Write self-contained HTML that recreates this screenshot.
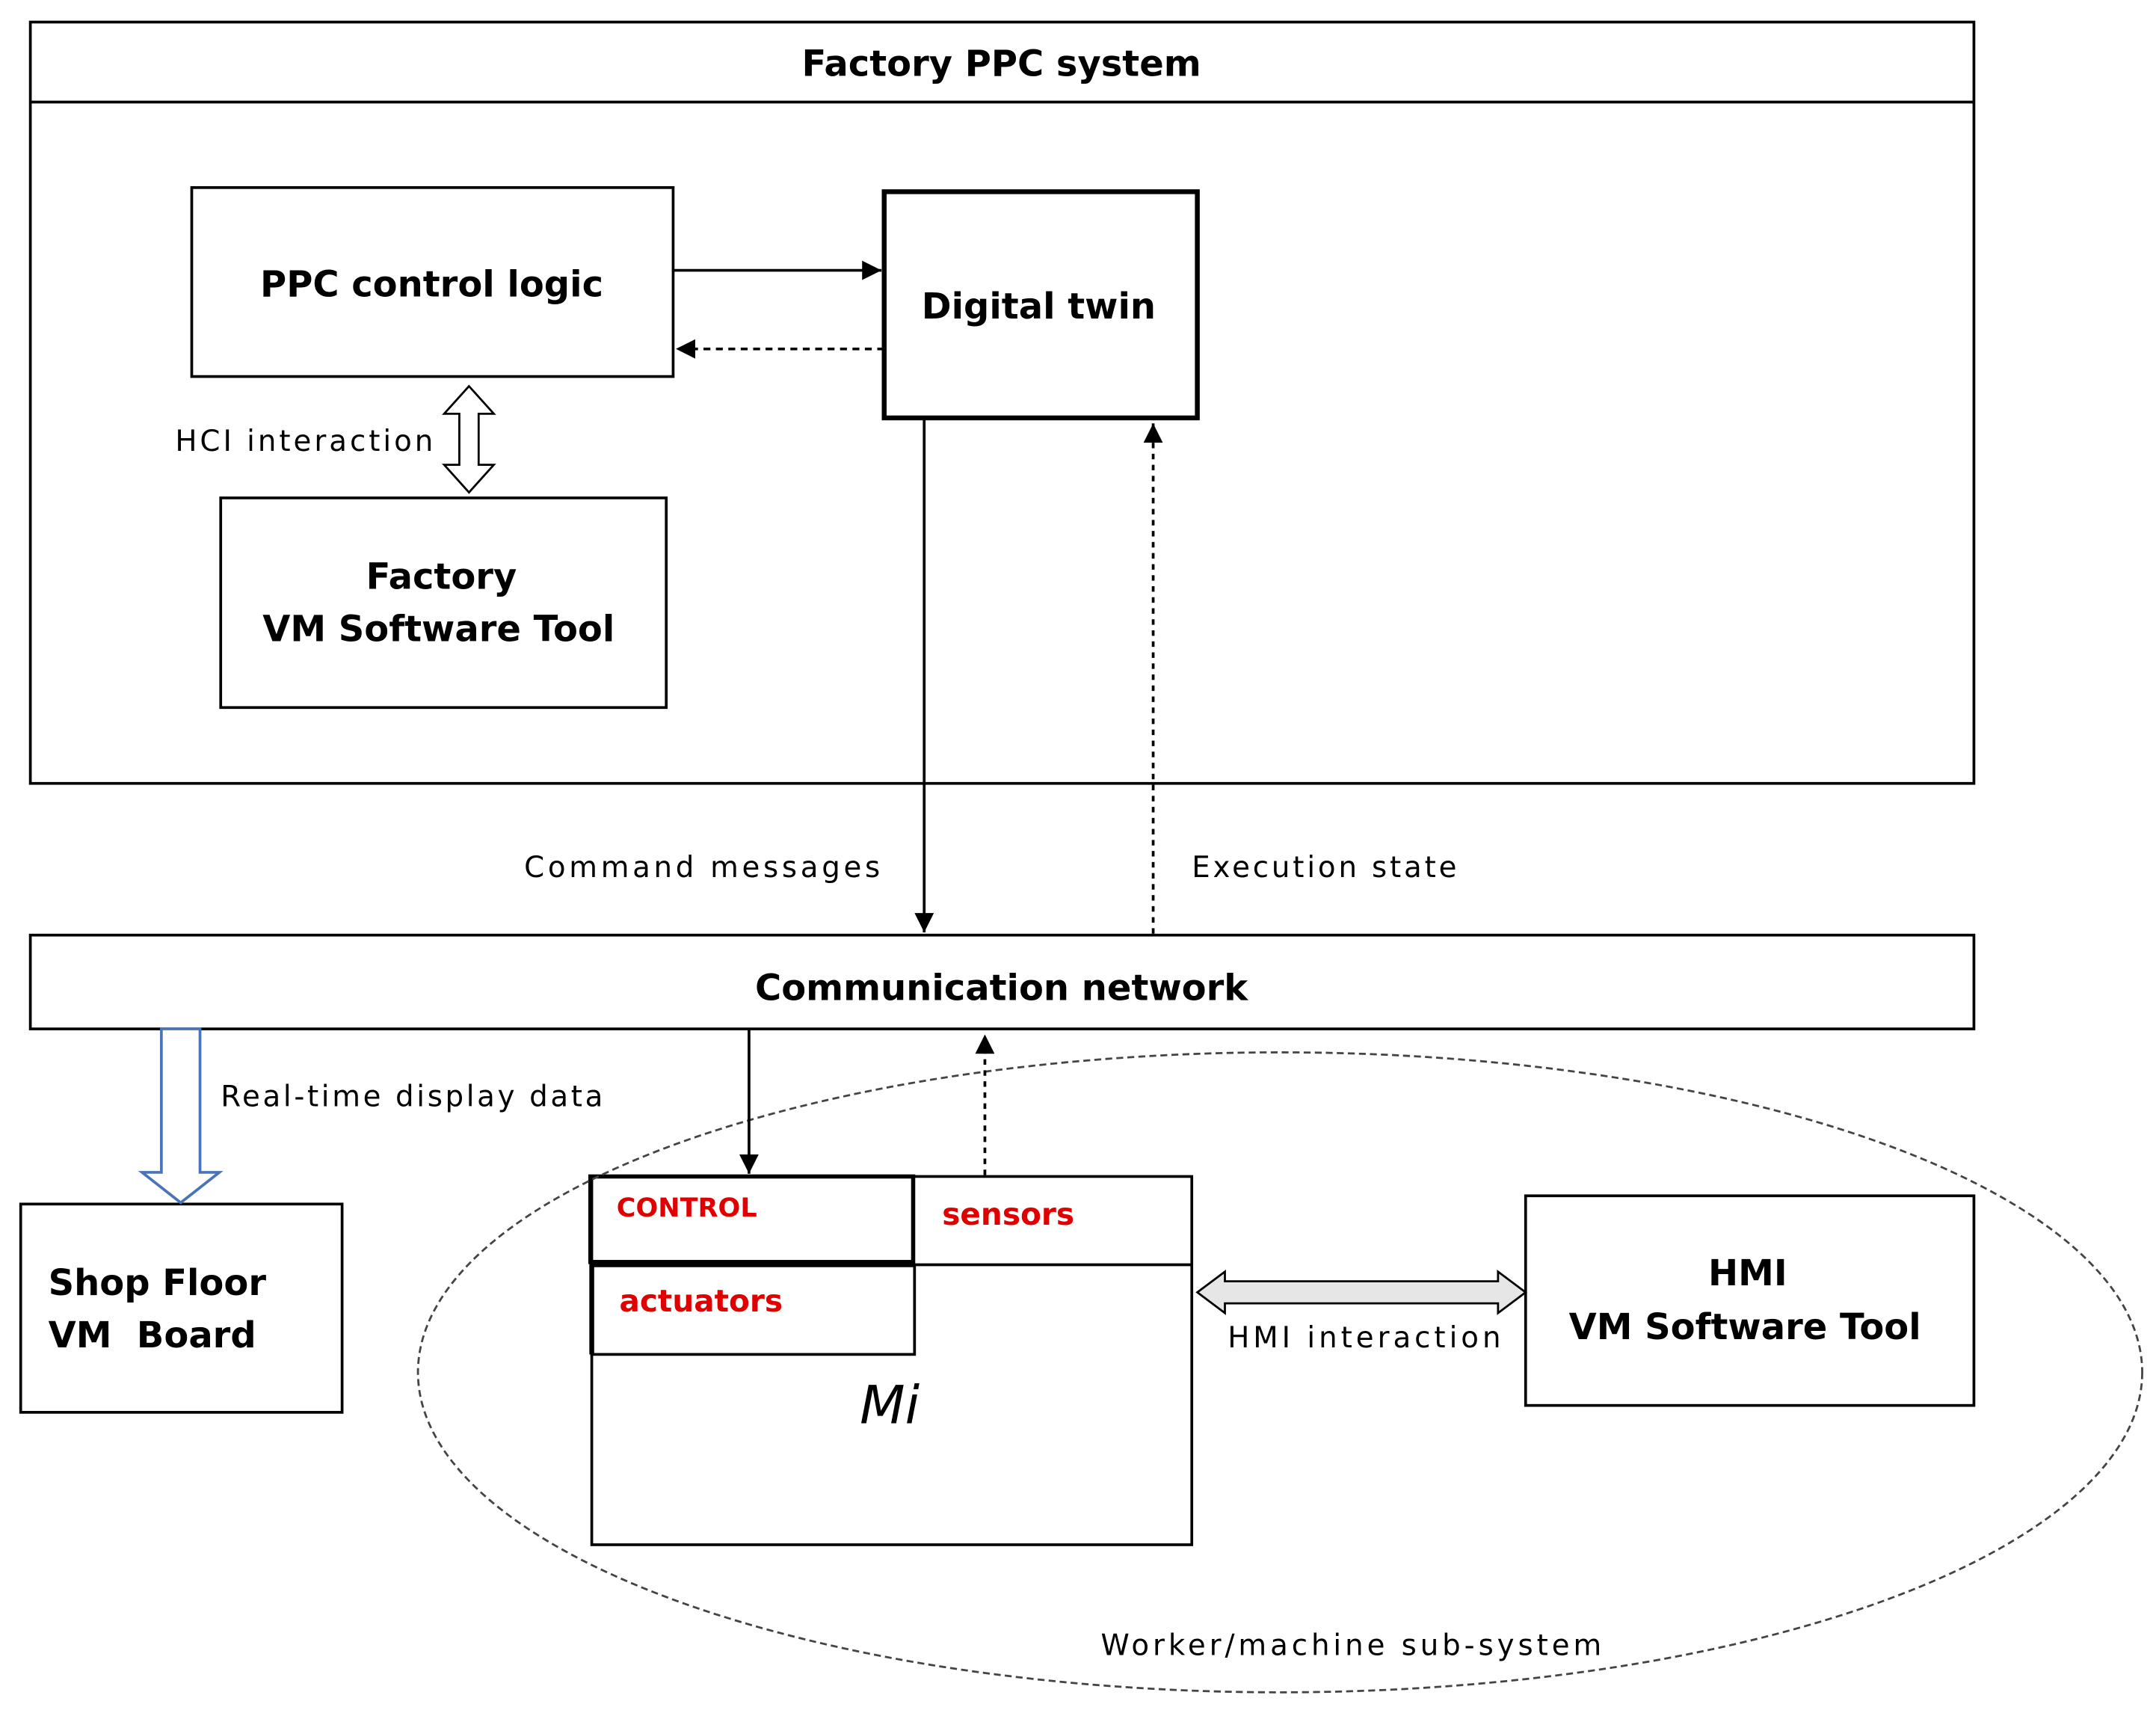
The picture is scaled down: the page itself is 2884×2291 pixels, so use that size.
<!DOCTYPE html>
<html><head><meta charset="utf-8"><style>html,body{margin:0;padding:0;background:#fff}svg{display:block}</style></head>
<body>
<svg width="2884" height="2291" viewBox="0 0 1563 1242" preserveAspectRatio="none" xmlns="http://www.w3.org/2000/svg" font-family="DejaVu Sans, Liberation Sans, sans-serif">
<defs>
<marker id="a" viewBox="0 0 10 10" refX="10" refY="5" markerWidth="7" markerHeight="7" orient="auto"><path d="M0,0L10,5L0,10z" fill="#000"/></marker>
</defs>
<g fill="none" stroke="#000" stroke-width="2">
<rect x="22" y="16" width="1409" height="552"/>
<line x1="22" y1="74" x2="1431" y2="74"/>
<rect x="139" y="136" width="349" height="137"/>
<rect x="641" y="139" width="227" height="164" stroke-width="3.5"/>
<rect x="160" y="361" width="323" height="152"/>
<rect x="22" y="678" width="1409" height="68"/>
<rect x="15" y="873" width="233" height="151"/>
<rect x="1106" y="867" width="325" height="152"/>
<rect x="429" y="853" width="435" height="267"/>
<line x1="662" y1="917" x2="864" y2="917"/>
<rect x="428" y="853" width="234" height="62" stroke-width="3"/>
<rect x="429" y="917" width="234" height="65"/>
<path d="M429,982V917H663" stroke-width="3.5"/>
<ellipse cx="928" cy="995" rx="625" ry="232" stroke="#444" stroke-width="1.5" stroke-dasharray="5,3"/>
<line x1="488" y1="196" x2="639" y2="196" marker-end="url(#a)"/>
<line x1="641" y1="253" x2="490" y2="253" stroke-dasharray="5,4" marker-end="url(#a)"/>
<line x1="670" y1="303" x2="670" y2="676" marker-end="url(#a)"/>
<line x1="836" y1="677" x2="836" y2="307" stroke-dasharray="4,4" marker-end="url(#a)"/>
<line x1="543" y1="746" x2="543" y2="851" marker-end="url(#a)"/>
<line x1="714" y1="852" x2="714" y2="750" stroke-dasharray="4,4" marker-end="url(#a)"/>
</g>
<path d="M340,280 L358,300 L347,300 L347,337 L358,337 L340,357 L322,337 L333,337 L333,300 L322,300 Z" fill="#fff" stroke="#000" stroke-width="1.5"/>
<path d="M117,746 L145,746 L145,850 L159,850 L131,872 L103,850 L117,850 Z" fill="#fff" stroke="#4a74b8" stroke-width="2"/>
<path d="M868,937 L888,922 L888,929 L1086,929 L1086,922 L1106,937 L1086,952 L1086,945 L888,945 L888,952 Z" fill="#e6e6e6" stroke="#000" stroke-width="1.5"/>
<g font-weight="bold" font-size="26" fill="#000" text-anchor="middle">
<text x="726" y="55">Factory PPC system</text>
<text x="313" y="215">PPC control logic</text>
<text x="753" y="231">Digital twin</text>
<text x="320" y="427">Factory</text>
<text x="318" y="465">VM Software Tool</text>
<text x="726" y="725">Communication network</text>
<text x="1267" y="932">HMI</text>
<text x="1265" y="971">VM Software Tool</text>
</g>
<g font-weight="bold" font-size="26" fill="#000">
<text x="35" y="939">Shop Floor</text>
<text x="35" y="977" xml:space="preserve">VM  Board</text>
</g>
<g font-size="21" fill="#000" lengthAdjust="spacing">
<text x="127" y="327" textLength="187">HCI interaction</text>
<text x="380" y="636" textLength="258">Command messages</text>
<text x="864" y="636" textLength="192">Execution state</text>
<text x="160" y="802" textLength="277">Real-time display data</text>
<text x="890" y="977" textLength="198">HMI interaction</text>
<text x="798" y="1200" textLength="363">Worker/machine sub-system</text>
</g>
<g font-weight="bold" fill="#e00000">
<text x="447" y="882" font-size="19">CONTROL</text>
<text x="683" y="888" font-size="22">sensors</text>
<text x="449" y="951" font-size="22">actuators</text>
</g>
<text x="645" y="1032" font-size="38" font-style="italic" text-anchor="middle" fill="#000">Mi</text>
</svg>
</body></html>
